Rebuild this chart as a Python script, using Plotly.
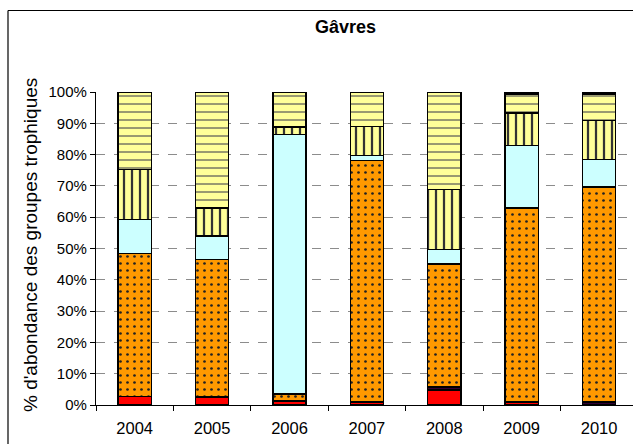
import plotly.graph_objects as go

years = ["2004", "2005", "2006", "2007", "2008", "2009", "2010"]
# abundance (%) by trophic group, bottom to top of each stack
red_grp = [2.7, 2.6, 1.3, 1.0, 4.8, 1.0, None]
dark_grp = [None, None, None, None, 1.0, None, 1.0]
orange_grp = [45.8, 43.9, 2.2, 77.1, 39.2, 62.0, 68.7]
cyan_grp = [10.7, 7.5, 83.0, 1.6, 4.6, 20.0, 8.7]
vstripe_grp = [16.0, 9.0, 2.3, 9.2, 19.2, 10.3, 12.5]
dash_grp = [24.8, 37.0, 11.2, 11.1, 31.2, 6.0, 8.4]
black_grp = [None, None, None, None, None, 0.7, 0.7]

y_ticks = list(range(0, 101, 10))
y_ticklabels = [f"{v}%" for v in y_ticks]

W, H = 633, 444
ML, MR, MT, MB = 96, 0, 92, 39
xpos = list(range(len(years)))
BW = 0.43

fig = go.Figure()

def add(vals, color, pattern=None, name=""):
    marker = dict(color=color, line=dict(color="black", width=1.4))
    if pattern:
        marker["pattern"] = pattern
    fig.add_trace(go.Bar(x=xpos, y=vals, width=BW, marker=marker, name=name,
                         showlegend=False))

add(red_grp, "#FF0000", name="g1")
add(dark_grp, "#330033", name="g2")
add(orange_grp, "#FF9900", dict(shape=".", fgcolor="#222", bgcolor="#FF9900",
                                size=7, solidity=0.12, fillmode="replace"), "g3")
add(cyan_grp, "#CCFFFF", name="g4")
add(vstripe_grp, "#FFFF99", dict(shape="|", fgcolor="#333", bgcolor="#FFFF99",
                                 size=8, solidity=0.28, fillmode="replace"), "g5")
add(dash_grp, "#FFFF99", dict(shape="-", fgcolor="#555", bgcolor="#FFFF99",
                              size=8, solidity=0.2, fgopacity=0.75, fillmode="replace"), "g6")
add(black_grp, "#000000", name="g7")

plot_w = W - ML - MR
plot_h = H - MT - MB
x_right = -0.5 + plot_w / 77.4

fig.update_layout(
    width=W, height=H,
    margin=dict(l=ML, r=MR, t=MT, b=MB, pad=0),
    barmode="stack",
    plot_bgcolor="white", paper_bgcolor="white",
    font=dict(family="Liberation Sans, Arial, sans-serif", color="black"),
    xaxis=dict(
        range=[-0.5, x_right], tickvals=xpos, ticktext=years,
        showline=True, linecolor="black", linewidth=1.2,
        ticks="outside", ticklen=8, tickcolor="rgba(0,0,0,0)",
        tickfont=dict(size=16.5), showgrid=False, zeroline=False,
        minor=dict(tick0=0.5, dtick=1, ticks="outside", ticklen=5,
                   tickcolor="black", tickwidth=1.2, showgrid=False),
    ),
    yaxis=dict(
        range=[0, 100], tickvals=y_ticks, ticktext=y_ticklabels,
        showline=True, linecolor="black", linewidth=1.2,
        ticks="outside", ticklen=5, tickcolor="black", tickwidth=1.2,
        tickfont=dict(size=15), showgrid=True, gridcolor="#8c8c8c",
        griddash="dash", gridwidth=1, zeroline=False,
    ),
    shapes=[dict(type="line", xref="paper", yref="paper",
                 x0=(8 - ML) / plot_w, x1=(8 - ML) / plot_w,
                 y0=(H - MB - 10 - 460) / plot_h, y1=(H - MB - 10.5) / plot_h,
                 line=dict(color="black", width=1.2)),
            dict(type="line", xref="paper", yref="paper",
                 x0=(8 - ML) / plot_w, x1=1.05,
                 y0=(H - MB - 10.5) / plot_h, y1=(H - MB - 10.5) / plot_h,
                 line=dict(color="black", width=1.2))],
    annotations=[
        dict(text="<b>Gâvres</b>", xref="paper", yref="paper",
             x=(345 - ML) / plot_w, y=(H - MB - 27) / plot_h,
             showarrow=False, font=dict(size=18), xanchor="center", yanchor="middle"),
        dict(text="% d'abondance des groupes trophiques", xref="paper", yref="paper",
             x=(30 - ML) / plot_w, y=(H - MB - 245) / plot_h, textangle=-90,
             showarrow=False, font=dict(size=19), xanchor="center", yanchor="middle"),
    ],
)

fig.write_html("out.html", config={"displayModeBar": False},
               post_script="document.body.style.margin='0';")
